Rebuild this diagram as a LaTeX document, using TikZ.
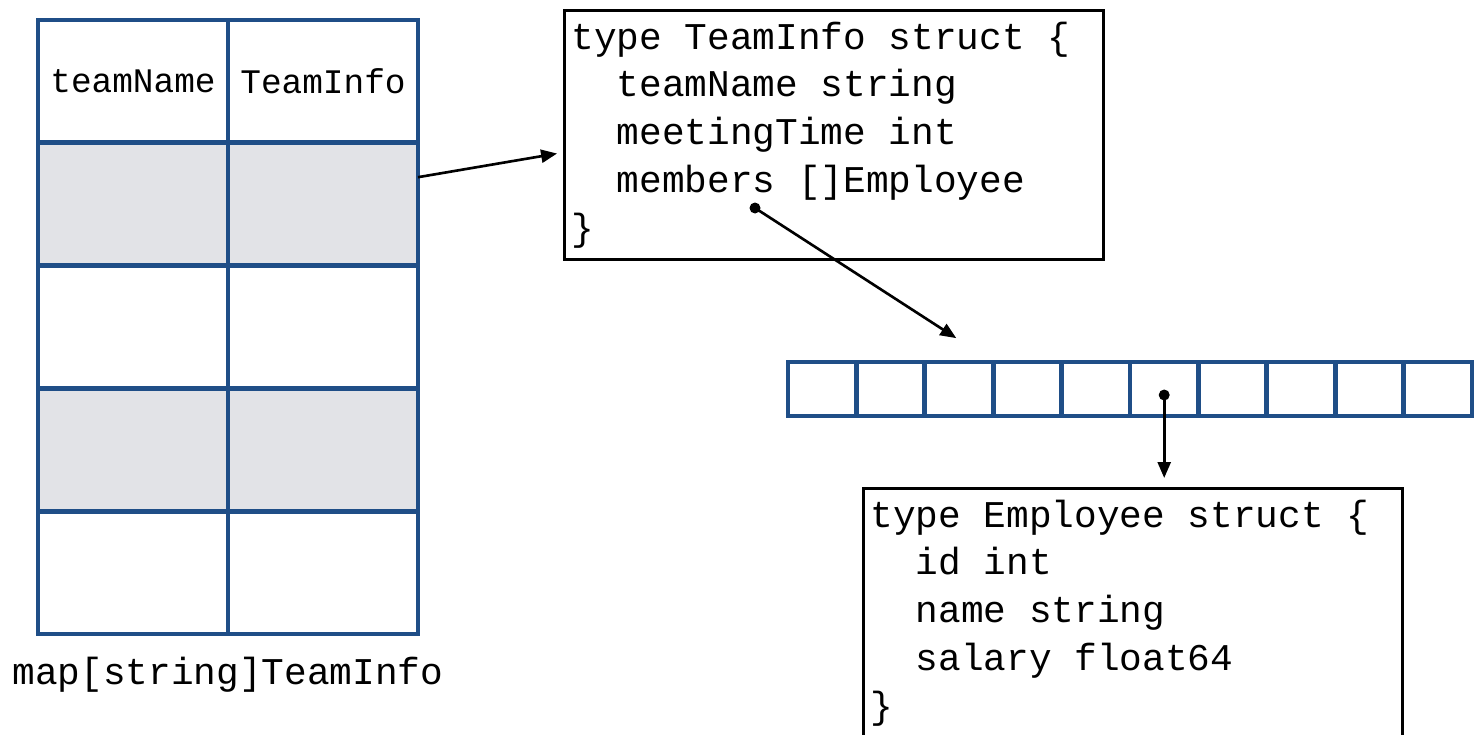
\documentclass[tikz,border=0pt]{standalone}
\usepackage{fontspec}
\setmonofont{Liberation Mono}
\usetikzlibrary{arrows.meta,calc,positioning}
\definecolor{gridblue}{HTML}{1F4E87}
\definecolor{rowgray}{HTML}{E2E3E7}
\newcommand\gp{\hphantom{x}}
\begin{document}
\begin{tikzpicture}[x=0.02cm,y=-0.02cm,
	cell/.style={draw=gridblue,line width=2.8pt,minimum width=3.8cm,minimum height=2.456cm,inner sep=0pt,outer sep=0pt,font=\ttfamily\fontsize{19.6}{22}\selectfont},
	slot/.style={draw=gridblue,line width=2.8pt,minimum width=1.368cm,minimum height=1.08cm,inner sep=0pt,outer sep=0pt},
	code/.style={draw,line width=1.6pt,anchor=north west,align=left,text width=10.5cm,inner xsep=0.14cm,minimum height=4.98cm,font=\ttfamily\fontsize{21.5}{27.2}\selectfont},
	link/.style={-{Triangle[length=0.32cm,width=0.26cm]},line width=1.5pt}]
	\useasboundingbox (0,0) rectangle (1480,734);
	% map table
	\node[cell] (c00) at (133,81.4) {teamName};
	\node[cell] (c01) at (323,81.4) {TeamInfo};
	\foreach \r/\fc in {1/rowgray,2/white,3/rowgray,4/white}
		\foreach \c/\x in {0/133,1/323}
			\node[cell,fill=\fc] (c\r\c) at (\x,{81.4+122.8*\r}) {};
	\node[font=\ttfamily\fontsize{21.5}{24}\selectfont] (maplbl) at (228,675) {map[string]TeamInfo};
	% structs
	\node[code] (team) at (563,9) {type\gp TeamInfo\gp struct\gp \{\\
		\gp\gp teamName\gp string\\
		\gp\gp meetingTime\gp int\\
		\gp\gp members\gp []Employee\\
		\}};
	\node[code] (emp) at (862,487) {type\gp Employee\gp struct\gp \{\\
		\gp\gp id\gp int\\
		\gp\gp name\gp string\\
		\gp\gp salary\gp float64\\
		\}};
	% slice
	\foreach \i in {1,...,10}
		\node[slot] (a\i) at ({788+68.4*(\i-0.5)},389) {};
	% pointers
	\draw[link,shorten >=0.12cm] ($(c11.east)+(0,-27)$) -- ($(team.north west)!0.57!(team.south west)$);
	\coordinate (mdot) at (755,208);
	\fill (mdot) circle[radius=0.11cm];
	\draw[link,shorten >=0.88cm] (mdot) -- (a3.north east);
	\coordinate (sdot) at ($(a6.center)+(0,6)$);
	\fill (sdot) circle[radius=0.11cm];
	\draw[link,shorten >=0.18cm] (sdot) -- (sdot |- emp.north);
\end{tikzpicture}
\end{document}
